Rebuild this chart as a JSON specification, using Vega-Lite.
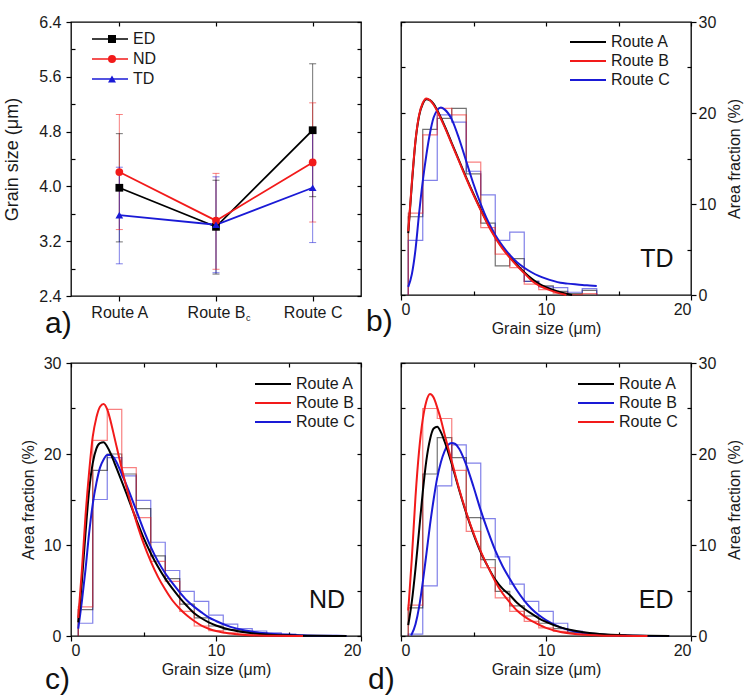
{
"$schema": "https://vega.github.io/schema/vega-lite/v6.json",
"padding": {"left": 3, "top": 13, "right": 0, "bottom": 2},
"background": "white",
"config": {
  "font": "Liberation Sans",
  "view": {"stroke": "#000", "strokeWidth": 1.3},
  "axis": {"grid": false, "domain": false, "labelFontSize": 16, "titleFontSize": 16, "titleFontWeight": "normal", "labelColor": "#1a1a1a", "titleColor": "#1a1a1a", "tickColor": "#000", "tickWidth": 1.2, "labelPadding": 2},
  "legend": {"labelFontSize": 16, "labelColor": "#1a1a1a", "padding": 0, "rowPadding": 3},
  "title": {"fontSize": 30, "fontWeight": "normal", "color": "#111", "font": "Liberation Sans"}
},
"datasets": {
"pa": [
{"dir":"ED","route":"Route A","mean":3.98,"lo":3.19,"hi":4.77},
{"dir":"ED","route":"Route Bc","mean":3.41,"lo":2.72,"hi":4.09},
{"dir":"ED","route":"Route C","mean":4.82,"lo":3.85,"hi":5.79},
{"dir":"ND","route":"Route A","mean":4.21,"lo":3.37,"hi":5.05},
{"dir":"ND","route":"Route Bc","mean":3.50,"lo":2.79,"hi":4.19},
{"dir":"ND","route":"Route C","mean":4.35,"lo":3.48,"hi":5.22},
{"dir":"TD","route":"Route A","mean":3.58,"lo":2.87,"hi":4.28},
{"dir":"TD","route":"Route Bc","mean":3.44,"lo":2.74,"hi":4.14},
{"dir":"TD","route":"Route C","mean":3.98,"lo":3.18,"hi":4.79}
],
"curves": [
{"p":"b","r":"Route A","x":0.5,"y":6.8},{"p":"b","r":"Route A","x":0.75,"y":12.2},{"p":"b","r":"Route A","x":1,"y":16.9},{"p":"b","r":"Route A","x":1.25,"y":19.7},{"p":"b","r":"Route A","x":1.5,"y":21.0},{"p":"b","r":"Route A","x":1.75,"y":21.5},{"p":"b","r":"Route A","x":2,"y":21.4},{"p":"b","r":"Route A","x":2.25,"y":21.0},{"p":"b","r":"Route A","x":2.5,"y":20.3},{"p":"b","r":"Route A","x":3,"y":18.6},{"p":"b","r":"Route A","x":3.5,"y":16.7},{"p":"b","r":"Route A","x":4,"y":14.8},{"p":"b","r":"Route A","x":4.5,"y":12.9},{"p":"b","r":"Route A","x":5,"y":11.1},{"p":"b","r":"Route A","x":5.5,"y":9.4},{"p":"b","r":"Route A","x":6,"y":7.8},{"p":"b","r":"Route A","x":6.5,"y":6.4},{"p":"b","r":"Route A","x":7,"y":5.2},{"p":"b","r":"Route A","x":7.5,"y":4.2},{"p":"b","r":"Route A","x":8,"y":3.3},{"p":"b","r":"Route A","x":8.5,"y":2.5},{"p":"b","r":"Route A","x":9,"y":1.8},{"p":"b","r":"Route A","x":9.5,"y":1.25},{"p":"b","r":"Route A","x":10,"y":0.85},{"p":"b","r":"Route A","x":10.5,"y":0.55},{"p":"b","r":"Route A","x":11,"y":0.3},{"p":"b","r":"Route A","x":11.5,"y":0.1},{"p":"b","r":"Route A","x":11.8,"y":0},
{"p":"b","r":"Route C","x":0.5,"y":0.9},{"p":"b","r":"Route C","x":0.75,"y":2.3},{"p":"b","r":"Route C","x":1,"y":5.0},{"p":"b","r":"Route C","x":1.25,"y":9.0},{"p":"b","r":"Route C","x":1.5,"y":12.5},{"p":"b","r":"Route C","x":1.75,"y":15.4},{"p":"b","r":"Route C","x":2,"y":17.8},{"p":"b","r":"Route C","x":2.25,"y":19.5},{"p":"b","r":"Route C","x":2.5,"y":20.3},{"p":"b","r":"Route C","x":2.75,"y":20.6},{"p":"b","r":"Route C","x":3,"y":20.4},{"p":"b","r":"Route C","x":3.5,"y":19.3},{"p":"b","r":"Route C","x":4,"y":17.2},{"p":"b","r":"Route C","x":4.5,"y":14.7},{"p":"b","r":"Route C","x":5,"y":12.2},{"p":"b","r":"Route C","x":5.5,"y":10.0},{"p":"b","r":"Route C","x":6,"y":8.1},{"p":"b","r":"Route C","x":6.5,"y":6.6},{"p":"b","r":"Route C","x":7,"y":5.4},{"p":"b","r":"Route C","x":7.5,"y":4.4},{"p":"b","r":"Route C","x":8,"y":3.6},{"p":"b","r":"Route C","x":8.5,"y":3.0},{"p":"b","r":"Route C","x":9,"y":2.5},{"p":"b","r":"Route C","x":9.5,"y":2.1},{"p":"b","r":"Route C","x":10,"y":1.8},{"p":"b","r":"Route C","x":10.5,"y":1.55},{"p":"b","r":"Route C","x":11,"y":1.35},{"p":"b","r":"Route C","x":11.5,"y":1.25},{"p":"b","r":"Route C","x":12,"y":1.17},{"p":"b","r":"Route C","x":12.5,"y":1.1},{"p":"b","r":"Route C","x":13,"y":1.05},{"p":"b","r":"Route C","x":13.5,"y":1.0},
{"p":"b","r":"Route B","x":0.5,"y":7.0},{"p":"b","r":"Route B","x":0.75,"y":12.4},{"p":"b","r":"Route B","x":1,"y":17.0},{"p":"b","r":"Route B","x":1.25,"y":19.8},{"p":"b","r":"Route B","x":1.5,"y":21.1},{"p":"b","r":"Route B","x":1.75,"y":21.6},{"p":"b","r":"Route B","x":2,"y":21.4},{"p":"b","r":"Route B","x":2.25,"y":20.9},{"p":"b","r":"Route B","x":2.5,"y":20.2},{"p":"b","r":"Route B","x":3,"y":18.5},{"p":"b","r":"Route B","x":3.5,"y":16.6},{"p":"b","r":"Route B","x":4,"y":14.7},{"p":"b","r":"Route B","x":4.5,"y":12.8},{"p":"b","r":"Route B","x":5,"y":11.0},{"p":"b","r":"Route B","x":5.5,"y":9.3},{"p":"b","r":"Route B","x":6,"y":7.7},{"p":"b","r":"Route B","x":6.5,"y":6.3},{"p":"b","r":"Route B","x":7,"y":5.1},{"p":"b","r":"Route B","x":7.5,"y":4.1},{"p":"b","r":"Route B","x":8,"y":3.2},{"p":"b","r":"Route B","x":8.5,"y":2.4},{"p":"b","r":"Route B","x":9,"y":1.6},{"p":"b","r":"Route B","x":9.5,"y":1.05},{"p":"b","r":"Route B","x":10,"y":0.7},{"p":"b","r":"Route B","x":10.5,"y":0.4},{"p":"b","r":"Route B","x":11,"y":0.15},{"p":"b","r":"Route B","x":11.4,"y":0},
{"p":"c","r":"Route C","x":0.5,"y":0.8},{"p":"c","r":"Route C","x":0.75,"y":3.8},{"p":"c","r":"Route C","x":1,"y":7.3},{"p":"c","r":"Route C","x":1.25,"y":11.3},{"p":"c","r":"Route C","x":1.5,"y":14.5},{"p":"c","r":"Route C","x":1.75,"y":16.8},{"p":"c","r":"Route C","x":2,"y":18.5},{"p":"c","r":"Route C","x":2.25,"y":19.4},{"p":"c","r":"Route C","x":2.5,"y":19.9},{"p":"c","r":"Route C","x":2.75,"y":19.9},{"p":"c","r":"Route C","x":3,"y":19.5},{"p":"c","r":"Route C","x":3.5,"y":17.8},{"p":"c","r":"Route C","x":4,"y":15.9},{"p":"c","r":"Route C","x":4.5,"y":13.8},{"p":"c","r":"Route C","x":5,"y":11.7},{"p":"c","r":"Route C","x":5.5,"y":9.8},{"p":"c","r":"Route C","x":6,"y":8.2},{"p":"c","r":"Route C","x":6.5,"y":6.9},{"p":"c","r":"Route C","x":7,"y":5.8},{"p":"c","r":"Route C","x":7.5,"y":4.8},{"p":"c","r":"Route C","x":8,"y":3.9},{"p":"c","r":"Route C","x":8.5,"y":3.2},{"p":"c","r":"Route C","x":9,"y":2.6},{"p":"c","r":"Route C","x":9.5,"y":2.05},{"p":"c","r":"Route C","x":10,"y":1.65},{"p":"c","r":"Route C","x":11,"y":1.0},{"p":"c","r":"Route C","x":12,"y":0.6},{"p":"c","r":"Route C","x":13,"y":0.36},{"p":"c","r":"Route C","x":14,"y":0.22},{"p":"c","r":"Route C","x":15,"y":0.13},{"p":"c","r":"Route C","x":16,"y":0.08},{"p":"c","r":"Route C","x":17,"y":0.04},{"p":"c","r":"Route C","x":19,"y":0.01},
{"p":"c","r":"Route A","x":0.5,"y":1.5},{"p":"c","r":"Route A","x":0.75,"y":6.0},{"p":"c","r":"Route A","x":1,"y":11.3},{"p":"c","r":"Route A","x":1.25,"y":16.0},{"p":"c","r":"Route A","x":1.5,"y":19.0},{"p":"c","r":"Route A","x":1.75,"y":20.6},{"p":"c","r":"Route A","x":2,"y":21.2},{"p":"c","r":"Route A","x":2.25,"y":21.3},{"p":"c","r":"Route A","x":2.5,"y":20.8},{"p":"c","r":"Route A","x":2.75,"y":20.0},{"p":"c","r":"Route A","x":3,"y":19.0},{"p":"c","r":"Route A","x":3.5,"y":17.0},{"p":"c","r":"Route A","x":4,"y":14.9},{"p":"c","r":"Route A","x":4.5,"y":12.8},{"p":"c","r":"Route A","x":5,"y":10.8},{"p":"c","r":"Route A","x":5.5,"y":9.1},{"p":"c","r":"Route A","x":6,"y":7.6},{"p":"c","r":"Route A","x":6.5,"y":6.3},{"p":"c","r":"Route A","x":7,"y":5.2},{"p":"c","r":"Route A","x":7.5,"y":4.2},{"p":"c","r":"Route A","x":8,"y":3.3},{"p":"c","r":"Route A","x":8.5,"y":2.5},{"p":"c","r":"Route A","x":9,"y":1.95},{"p":"c","r":"Route A","x":9.5,"y":1.5},{"p":"c","r":"Route A","x":10,"y":1.15},{"p":"c","r":"Route A","x":11,"y":0.68},{"p":"c","r":"Route A","x":12,"y":0.4},{"p":"c","r":"Route A","x":13,"y":0.22},{"p":"c","r":"Route A","x":14,"y":0.12},{"p":"c","r":"Route A","x":15,"y":0.07},{"p":"c","r":"Route A","x":16,"y":0.04},{"p":"c","r":"Route A","x":17,"y":0.02},{"p":"c","r":"Route A","x":19,"y":0},
{"p":"c","r":"Route B","x":0.5,"y":2.0},{"p":"c","r":"Route B","x":0.75,"y":7.2},{"p":"c","r":"Route B","x":1,"y":13.2},{"p":"c","r":"Route B","x":1.25,"y":18.0},{"p":"c","r":"Route B","x":1.5,"y":21.9},{"p":"c","r":"Route B","x":1.75,"y":24.0},{"p":"c","r":"Route B","x":2,"y":25.2},{"p":"c","r":"Route B","x":2.25,"y":25.5},{"p":"c","r":"Route B","x":2.5,"y":24.9},{"p":"c","r":"Route B","x":2.75,"y":23.5},{"p":"c","r":"Route B","x":3,"y":21.8},{"p":"c","r":"Route B","x":3.5,"y":18.4},{"p":"c","r":"Route B","x":4,"y":15.3},{"p":"c","r":"Route B","x":4.5,"y":12.6},{"p":"c","r":"Route B","x":5,"y":10.2},{"p":"c","r":"Route B","x":5.5,"y":8.2},{"p":"c","r":"Route B","x":6,"y":6.5},{"p":"c","r":"Route B","x":6.5,"y":5.1},{"p":"c","r":"Route B","x":7,"y":3.9},{"p":"c","r":"Route B","x":7.5,"y":3.0},{"p":"c","r":"Route B","x":8,"y":2.25},{"p":"c","r":"Route B","x":8.5,"y":1.65},{"p":"c","r":"Route B","x":9,"y":1.15},{"p":"c","r":"Route B","x":9.5,"y":0.8},{"p":"c","r":"Route B","x":10,"y":0.55},{"p":"c","r":"Route B","x":11,"y":0.27},{"p":"c","r":"Route B","x":12,"y":0.12},{"p":"c","r":"Route B","x":13,"y":0.05},{"p":"c","r":"Route B","x":14,"y":0.02},{"p":"c","r":"Route B","x":16,"y":0},
{"p":"d","r":"Route B","x":0.7,"y":0.05},{"p":"d","r":"Route B","x":1,"y":1.3},{"p":"d","r":"Route B","x":1.25,"y":3.2},{"p":"d","r":"Route B","x":1.5,"y":5.9},{"p":"d","r":"Route B","x":1.75,"y":9.0},{"p":"d","r":"Route B","x":2,"y":12.2},{"p":"d","r":"Route B","x":2.25,"y":15.0},{"p":"d","r":"Route B","x":2.5,"y":17.4},{"p":"d","r":"Route B","x":2.75,"y":19.1},{"p":"d","r":"Route B","x":3,"y":20.3},{"p":"d","r":"Route B","x":3.25,"y":21.0},{"p":"d","r":"Route B","x":3.5,"y":21.2},{"p":"d","r":"Route B","x":3.75,"y":21.1},{"p":"d","r":"Route B","x":4,"y":20.6},{"p":"d","r":"Route B","x":4.5,"y":18.8},{"p":"d","r":"Route B","x":5,"y":16.4},{"p":"d","r":"Route B","x":5.5,"y":13.8},{"p":"d","r":"Route B","x":6,"y":11.5},{"p":"d","r":"Route B","x":6.5,"y":9.4},{"p":"d","r":"Route B","x":7,"y":7.7},{"p":"d","r":"Route B","x":7.5,"y":6.3},{"p":"d","r":"Route B","x":8,"y":5.0},{"p":"d","r":"Route B","x":8.5,"y":3.9},{"p":"d","r":"Route B","x":9,"y":3.0},{"p":"d","r":"Route B","x":9.5,"y":2.3},{"p":"d","r":"Route B","x":10,"y":1.75},{"p":"d","r":"Route B","x":11,"y":0.95},{"p":"d","r":"Route B","x":12,"y":0.5},{"p":"d","r":"Route B","x":13,"y":0.28},{"p":"d","r":"Route B","x":14,"y":0.15},{"p":"d","r":"Route B","x":15,"y":0.07},{"p":"d","r":"Route B","x":16,"y":0.03},{"p":"d","r":"Route B","x":17,"y":0.01},{"p":"d","r":"Route B","x":18.5,"y":0},
{"p":"d","r":"Route A","x":0.5,"y":1.2},{"p":"d","r":"Route A","x":0.75,"y":3.8},{"p":"d","r":"Route A","x":1,"y":7.4},{"p":"d","r":"Route A","x":1.25,"y":11.6},{"p":"d","r":"Route A","x":1.5,"y":15.8},{"p":"d","r":"Route A","x":1.75,"y":19.3},{"p":"d","r":"Route A","x":2,"y":21.6},{"p":"d","r":"Route A","x":2.25,"y":22.8},{"p":"d","r":"Route A","x":2.5,"y":23.0},{"p":"d","r":"Route A","x":2.75,"y":22.4},{"p":"d","r":"Route A","x":3,"y":21.4},{"p":"d","r":"Route A","x":3.5,"y":18.9},{"p":"d","r":"Route A","x":4,"y":16.1},{"p":"d","r":"Route A","x":4.5,"y":13.5},{"p":"d","r":"Route A","x":5,"y":11.2},{"p":"d","r":"Route A","x":5.5,"y":9.2},{"p":"d","r":"Route A","x":6,"y":7.6},{"p":"d","r":"Route A","x":6.5,"y":6.2},{"p":"d","r":"Route A","x":7,"y":5.2},{"p":"d","r":"Route A","x":7.5,"y":4.5},{"p":"d","r":"Route A","x":8,"y":3.65},{"p":"d","r":"Route A","x":8.5,"y":3.0},{"p":"d","r":"Route A","x":9,"y":2.45},{"p":"d","r":"Route A","x":9.5,"y":1.95},{"p":"d","r":"Route A","x":10,"y":1.55},{"p":"d","r":"Route A","x":11,"y":0.95},{"p":"d","r":"Route A","x":12,"y":0.57},{"p":"d","r":"Route A","x":13,"y":0.33},{"p":"d","r":"Route A","x":14,"y":0.19},{"p":"d","r":"Route A","x":15,"y":0.1},{"p":"d","r":"Route A","x":16,"y":0.05},{"p":"d","r":"Route A","x":17,"y":0.02},{"p":"d","r":"Route A","x":18.5,"y":0},
{"p":"d","r":"Route C","x":0.5,"y":2.8},{"p":"d","r":"Route C","x":0.75,"y":8.6},{"p":"d","r":"Route C","x":1,"y":15.3},{"p":"d","r":"Route C","x":1.25,"y":20.4},{"p":"d","r":"Route C","x":1.5,"y":23.8},{"p":"d","r":"Route C","x":1.75,"y":25.8},{"p":"d","r":"Route C","x":2,"y":26.6},{"p":"d","r":"Route C","x":2.25,"y":26.2},{"p":"d","r":"Route C","x":2.5,"y":25.1},{"p":"d","r":"Route C","x":2.75,"y":23.8},{"p":"d","r":"Route C","x":3,"y":22.2},{"p":"d","r":"Route C","x":3.5,"y":19.2},{"p":"d","r":"Route C","x":4,"y":16.2},{"p":"d","r":"Route C","x":4.5,"y":13.6},{"p":"d","r":"Route C","x":5,"y":11.3},{"p":"d","r":"Route C","x":5.5,"y":9.3},{"p":"d","r":"Route C","x":6,"y":7.6},{"p":"d","r":"Route C","x":6.5,"y":6.0},{"p":"d","r":"Route C","x":7,"y":4.7},{"p":"d","r":"Route C","x":7.5,"y":3.7},{"p":"d","r":"Route C","x":8,"y":2.8},{"p":"d","r":"Route C","x":8.5,"y":2.15},{"p":"d","r":"Route C","x":9,"y":1.65},{"p":"d","r":"Route C","x":9.5,"y":1.25},{"p":"d","r":"Route C","x":10,"y":0.9},{"p":"d","r":"Route C","x":11,"y":0.45},{"p":"d","r":"Route C","x":12,"y":0.22},{"p":"d","r":"Route C","x":13,"y":0.1},{"p":"d","r":"Route C","x":14,"y":0.04},{"p":"d","r":"Route C","x":15,"y":0.02},{"p":"d","r":"Route C","x":17,"y":0}
],
"hist": [
{"p":"b","r":"Route A","i":0,"x":0.5,"y":0},{"p":"b","r":"Route A","i":1,"x":0.5,"y":8.6},{"p":"b","r":"Route A","i":2,"x":1.5,"y":18.2},{"p":"b","r":"Route A","i":3,"x":2.5,"y":19.4},{"p":"b","r":"Route A","i":4,"x":3.5,"y":20.5},{"p":"b","r":"Route A","i":5,"x":4.5,"y":13.3},{"p":"b","r":"Route A","i":6,"x":5.5,"y":7.9},{"p":"b","r":"Route A","i":7,"x":6.5,"y":3.2},{"p":"b","r":"Route A","i":8,"x":7.5,"y":4.0},{"p":"b","r":"Route A","i":9,"x":8.5,"y":1.5},{"p":"b","r":"Route A","i":10,"x":9.5,"y":1.0},{"p":"b","r":"Route A","i":11,"x":10.5,"y":0.4},{"p":"b","r":"Route A","i":12,"x":11.5,"y":0.15},{"p":"b","r":"Route A","i":13,"x":12.5,"y":0.5},{"p":"b","r":"Route A","i":14,"x":13.5,"y":0.5},{"p":"b","r":"Route A","i":15,"x":13.5,"y":0},
{"p":"b","r":"Route C","i":0,"x":0.5,"y":0},{"p":"b","r":"Route C","i":1,"x":0.5,"y":6.0},{"p":"b","r":"Route C","i":2,"x":1.5,"y":12.6},{"p":"b","r":"Route C","i":3,"x":2.5,"y":19.8},{"p":"b","r":"Route C","i":4,"x":3.5,"y":19.0},{"p":"b","r":"Route C","i":5,"x":4.5,"y":13.6},{"p":"b","r":"Route C","i":6,"x":5.5,"y":11.0},{"p":"b","r":"Route C","i":7,"x":6.5,"y":6.0},{"p":"b","r":"Route C","i":8,"x":7.5,"y":6.9},{"p":"b","r":"Route C","i":9,"x":8.5,"y":1.5},{"p":"b","r":"Route C","i":10,"x":9.5,"y":0.9},{"p":"b","r":"Route C","i":11,"x":10.5,"y":0.8},{"p":"b","r":"Route C","i":12,"x":11.5,"y":0.3},{"p":"b","r":"Route C","i":13,"x":12.5,"y":0.7},{"p":"b","r":"Route C","i":14,"x":13.5,"y":0.7},{"p":"b","r":"Route C","i":15,"x":13.5,"y":0},
{"p":"b","r":"Route B","i":0,"x":0.5,"y":0},{"p":"b","r":"Route B","i":1,"x":0.5,"y":9.0},{"p":"b","r":"Route B","i":2,"x":1.5,"y":17.6},{"p":"b","r":"Route B","i":3,"x":2.5,"y":20.5},{"p":"b","r":"Route B","i":4,"x":3.5,"y":19.8},{"p":"b","r":"Route B","i":5,"x":4.5,"y":14.6},{"p":"b","r":"Route B","i":6,"x":5.5,"y":7.4},{"p":"b","r":"Route B","i":7,"x":6.5,"y":4.5},{"p":"b","r":"Route B","i":8,"x":7.5,"y":3.0},{"p":"b","r":"Route B","i":9,"x":8.5,"y":1.2},{"p":"b","r":"Route B","i":10,"x":9.5,"y":0.6},{"p":"b","r":"Route B","i":11,"x":10.5,"y":0.2},{"p":"b","r":"Route B","i":12,"x":11.5,"y":0.05},{"p":"b","r":"Route B","i":13,"x":12.5,"y":0.15},{"p":"b","r":"Route B","i":14,"x":13.5,"y":0.15},{"p":"b","r":"Route B","i":15,"x":13.5,"y":0},
{"p":"c","r":"Route C","i":0,"x":0.5,"y":0},{"p":"c","r":"Route C","i":1,"x":0.5,"y":1.4},{"p":"c","r":"Route C","i":2,"x":1.5,"y":15.0},{"p":"c","r":"Route C","i":3,"x":2.5,"y":19.6},{"p":"c","r":"Route C","i":4,"x":3.5,"y":17.6},{"p":"c","r":"Route C","i":5,"x":4.5,"y":14.9},{"p":"c","r":"Route C","i":6,"x":5.5,"y":10.3},{"p":"c","r":"Route C","i":7,"x":6.5,"y":7.2},{"p":"c","r":"Route C","i":8,"x":7.5,"y":4.9},{"p":"c","r":"Route C","i":9,"x":8.5,"y":3.8},{"p":"c","r":"Route C","i":10,"x":9.5,"y":2.3},{"p":"c","r":"Route C","i":11,"x":10.5,"y":1.3},{"p":"c","r":"Route C","i":12,"x":11.5,"y":0.8},{"p":"c","r":"Route C","i":13,"x":12.5,"y":0.55},{"p":"c","r":"Route C","i":14,"x":13.5,"y":0.35},{"p":"c","r":"Route C","i":15,"x":14.5,"y":0.2},{"p":"c","r":"Route C","i":16,"x":15.5,"y":0.2},{"p":"c","r":"Route C","i":17,"x":15.5,"y":0},
{"p":"c","r":"Route A","i":0,"x":0.5,"y":0},{"p":"c","r":"Route A","i":1,"x":0.5,"y":2.9},{"p":"c","r":"Route A","i":2,"x":1.5,"y":18.2},{"p":"c","r":"Route A","i":3,"x":2.5,"y":20.0},{"p":"c","r":"Route A","i":4,"x":3.5,"y":17.8},{"p":"c","r":"Route A","i":5,"x":4.5,"y":14.0},{"p":"c","r":"Route A","i":6,"x":5.5,"y":8.8},{"p":"c","r":"Route A","i":7,"x":6.5,"y":6.3},{"p":"c","r":"Route A","i":8,"x":7.5,"y":3.5},{"p":"c","r":"Route A","i":9,"x":8.5,"y":2.0},{"p":"c","r":"Route A","i":10,"x":9.5,"y":1.1},{"p":"c","r":"Route A","i":11,"x":10.5,"y":0.7},{"p":"c","r":"Route A","i":12,"x":11.5,"y":0.5},{"p":"c","r":"Route A","i":13,"x":12.5,"y":0.35},{"p":"c","r":"Route A","i":14,"x":13.5,"y":0.2},{"p":"c","r":"Route A","i":15,"x":14.5,"y":0.1},{"p":"c","r":"Route A","i":16,"x":15.5,"y":0.1},{"p":"c","r":"Route A","i":17,"x":15.5,"y":0},
{"p":"c","r":"Route B","i":0,"x":0.5,"y":0},{"p":"c","r":"Route B","i":1,"x":0.5,"y":3.2},{"p":"c","r":"Route B","i":2,"x":1.5,"y":21.5},{"p":"c","r":"Route B","i":3,"x":2.5,"y":24.9},{"p":"c","r":"Route B","i":4,"x":3.5,"y":18.5},{"p":"c","r":"Route B","i":5,"x":4.5,"y":13.0},{"p":"c","r":"Route B","i":6,"x":5.5,"y":8.2},{"p":"c","r":"Route B","i":7,"x":6.5,"y":6.0},{"p":"c","r":"Route B","i":8,"x":7.5,"y":2.7},{"p":"c","r":"Route B","i":9,"x":8.5,"y":1.1},{"p":"c","r":"Route B","i":10,"x":9.5,"y":0.6},{"p":"c","r":"Route B","i":11,"x":10.5,"y":0.35},{"p":"c","r":"Route B","i":12,"x":11.5,"y":0.2},{"p":"c","r":"Route B","i":13,"x":12.5,"y":0.1},{"p":"c","r":"Route B","i":14,"x":13.5,"y":0.05},{"p":"c","r":"Route B","i":15,"x":14.5,"y":0.05},{"p":"c","r":"Route B","i":16,"x":15.5,"y":0.05},{"p":"c","r":"Route B","i":17,"x":15.5,"y":0},
{"p":"d","r":"Route B","i":0,"x":0.5,"y":0},{"p":"d","r":"Route B","i":1,"x":0.5,"y":0.2},{"p":"d","r":"Route B","i":2,"x":1.5,"y":5.5},{"p":"d","r":"Route B","i":3,"x":2.5,"y":16.5},{"p":"d","r":"Route B","i":4,"x":3.5,"y":21.0},{"p":"d","r":"Route B","i":5,"x":4.5,"y":19.0},{"p":"d","r":"Route B","i":6,"x":5.5,"y":12.9},{"p":"d","r":"Route B","i":7,"x":6.5,"y":8.7},{"p":"d","r":"Route B","i":8,"x":7.5,"y":5.7},{"p":"d","r":"Route B","i":9,"x":8.5,"y":3.8},{"p":"d","r":"Route B","i":10,"x":9.5,"y":2.7},{"p":"d","r":"Route B","i":11,"x":10.5,"y":1.4},{"p":"d","r":"Route B","i":12,"x":11.5,"y":0.55},{"p":"d","r":"Route B","i":13,"x":12.5,"y":0.25},{"p":"d","r":"Route B","i":14,"x":13.5,"y":0.15},{"p":"d","r":"Route B","i":15,"x":14.5,"y":0.1},{"p":"d","r":"Route B","i":16,"x":15.5,"y":0.1},{"p":"d","r":"Route B","i":17,"x":15.5,"y":0},
{"p":"d","r":"Route A","i":0,"x":0.5,"y":0},{"p":"d","r":"Route A","i":1,"x":0.5,"y":3.1},{"p":"d","r":"Route A","i":2,"x":1.5,"y":17.8},{"p":"d","r":"Route A","i":3,"x":2.5,"y":21.8},{"p":"d","r":"Route A","i":4,"x":3.5,"y":19.6},{"p":"d","r":"Route A","i":5,"x":4.5,"y":13.0},{"p":"d","r":"Route A","i":6,"x":5.5,"y":8.4},{"p":"d","r":"Route A","i":7,"x":6.5,"y":4.9},{"p":"d","r":"Route A","i":8,"x":7.5,"y":3.3},{"p":"d","r":"Route A","i":9,"x":8.5,"y":2.2},{"p":"d","r":"Route A","i":10,"x":9.5,"y":1.4},{"p":"d","r":"Route A","i":11,"x":10.5,"y":0.8},{"p":"d","r":"Route A","i":12,"x":11.5,"y":0.4},{"p":"d","r":"Route A","i":13,"x":12.5,"y":0.25},{"p":"d","r":"Route A","i":14,"x":13.5,"y":0.15},{"p":"d","r":"Route A","i":15,"x":14.5,"y":0.1},{"p":"d","r":"Route A","i":16,"x":15.5,"y":0.1},{"p":"d","r":"Route A","i":17,"x":15.5,"y":0},
{"p":"d","r":"Route C","i":0,"x":0.5,"y":0},{"p":"d","r":"Route C","i":1,"x":0.5,"y":3.4},{"p":"d","r":"Route C","i":2,"x":1.5,"y":25.0},{"p":"d","r":"Route C","i":3,"x":2.5,"y":23.9},{"p":"d","r":"Route C","i":4,"x":3.5,"y":18.2},{"p":"d","r":"Route C","i":5,"x":4.5,"y":11.5},{"p":"d","r":"Route C","i":6,"x":5.5,"y":7.5},{"p":"d","r":"Route C","i":7,"x":6.5,"y":4.2},{"p":"d","r":"Route C","i":8,"x":7.5,"y":2.7},{"p":"d","r":"Route C","i":9,"x":8.5,"y":1.6},{"p":"d","r":"Route C","i":10,"x":9.5,"y":0.9},{"p":"d","r":"Route C","i":11,"x":10.5,"y":0.5},{"p":"d","r":"Route C","i":12,"x":11.5,"y":0.3},{"p":"d","r":"Route C","i":13,"x":12.5,"y":0.15},{"p":"d","r":"Route C","i":14,"x":13.5,"y":0.1},{"p":"d","r":"Route C","i":15,"x":14.5,"y":0.05},{"p":"d","r":"Route C","i":16,"x":15.5,"y":0.05},{"p":"d","r":"Route C","i":17,"x":15.5,"y":0}
]
},
"columns": 2,
"spacing": {"row": 67, "column": 40},
"bounds": "flush",
"resolve": {"scale": {"color": "independent", "shape": "independent", "fill": "independent"}, "legend": {"color": "independent", "shape": "independent", "fill": "independent"}},
"concat": [
{
 "width": 290, "height": 274,
 "title": {"text": "a)", "orient": "bottom", "anchor": "start", "frame": "group", "dx": -26, "offset": 10, "baseline": "alphabetic"},
 "data": {"name": "pa"},
 "resolve": {"axis": {"x": "independent", "y": "independent"}},
 "layer": [
  {"mark": {"type": "rule", "strokeWidth": 1, "opacity": 0.55},
   "encoding": {
    "x": {"field": "route", "type": "nominal", "scale": {"type": "point", "domain": ["Route A", "Route Bc", "Route C"], "padding": 0.5}, "axis": null},
    "y": {"field": "lo", "type": "quantitative", "scale": {"domain": [2.4, 6.4], "nice": false, "zero": false}, "axis": {"orient": "right", "values": [2.4, 2.8, 3.2, 3.6, 4.0, 4.4, 4.8, 5.2, 5.6, 6.0, 6.4], "tickSize": -4, "labels": false, "title": null}},
    "y2": {"field": "hi"},
    "color": {"field": "dir", "type": "nominal", "scale": {"domain": ["ED", "ND", "TD"], "range": ["#000000", "#f21a1a", "#1a1ad6"]}, "legend": {"orient": "none", "legendX": 31, "legendY": 9, "title": null, "symbolType": "M-3,0H3", "symbolSize": 144, "labelOffset": 15, "rowPadding": 4, "symbolStrokeWidth": 1.6, "symbolOpacity": 1}}
   }},
  {"transform": [{"fold": ["lo", "hi"], "as": ["k", "v"]}],
   "mark": {"type": "tick", "thickness": 1, "size": 7, "opacity": 0.55},
   "encoding": {
    "x": {"field": "route", "type": "nominal", "axis": null},
    "y": {"field": "v", "type": "quantitative", "axis": null},
    "color": {"field": "dir", "type": "nominal", "legend": {"orient": "none", "legendX": 31, "legendY": 9, "title": null, "symbolType": "M-3,0H3", "symbolSize": 144, "labelOffset": 15, "rowPadding": 4, "symbolStrokeWidth": 1.6, "symbolOpacity": 1}}
   }},
  {"mark": {"type": "line", "strokeWidth": 1.8},
   "encoding": {
    "x": {"field": "route", "type": "nominal", "axis": {"orient": "bottom", "tickSize": 5, "labelAngle": 0, "labelPadding": 3, "title": null, "labelExpr": "datum.value == 'Route Bc' ? 'Route B' : datum.value"}},
    "y": {"field": "mean", "type": "quantitative", "axis": {"orient": "left", "values": [2.4, 3.2, 4.0, 4.8, 5.6, 6.4], "format": ".1f", "tickSize": 5, "labelPadding": 5, "title": "Grain size (μm)", "titleFontSize": 18, "titlePadding": 17}},
    "color": {"field": "dir", "type": "nominal", "legend": {"orient": "none", "legendX": 31, "legendY": 9, "title": null, "symbolType": "M-3,0H3", "symbolSize": 144, "labelOffset": 15, "rowPadding": 4, "symbolStrokeWidth": 1.6, "symbolOpacity": 1}}
   }},
  {"mark": {"type": "point", "filled": true, "opacity": 1, "size": 60},
   "encoding": {
    "x": {"field": "route", "type": "nominal", "axis": {"orient": "top", "tickSize": -4, "labels": false, "title": null}},
    "y": {"field": "mean", "type": "quantitative", "axis": {"orient": "left", "values": [2.8, 3.6, 4.4, 5.2, 6.0], "tickSize": -4, "labels": false, "title": null}},
    "fill": {"field": "dir", "type": "nominal", "scale": {"range": ["#000000", "#f21a1a", "#1a1ad6"]}, "legend": {"orient": "none", "legendX": 33, "legendY": 9, "title": null, "symbolSize": 64, "labelOffset": 25, "rowPadding": 4, "labelExpr": "''", "labelOpacity": 0, "symbolOpacity": 1, "symbolStrokeWidth": 0}},
    "shape": {"field": "dir", "type": "nominal", "scale": {"range": ["square", "circle", "triangle-up"]}, "legend": {"orient": "none", "legendX": 33, "legendY": 9, "title": null, "symbolSize": 64, "labelOffset": 25, "rowPadding": 4, "labelExpr": "''", "labelOpacity": 0, "symbolOpacity": 1, "symbolStrokeWidth": 0}}
   }},
  {"data": {"values": [{"route": "Route Bc", "s": "c"}]},
   "mark": {"type": "text", "fontSize": 9, "dx": 30, "dy": 25, "align": "left", "baseline": "alphabetic", "color": "#1a1a1a"},
   "encoding": {
    "x": {"field": "route", "type": "nominal", "axis": null},
    "y": {"datum": 2.4, "type": "quantitative", "axis": null},
    "text": {"field": "s"}
   }}
 ]
},
{
 "width": 290, "height": 273,
 "title": {"text": "b)", "orient": "bottom", "anchor": "start", "frame": "group", "dx": -35, "offset": -5, "baseline": "alphabetic"},
 "resolve": {"axis": {"x": "independent", "y": "independent"}},
 "layer": [
  {"data": {"name": "hist"}, "transform": [{"filter": "datum.p == 'b'"}],
   "mark": {"type": "line", "interpolate": "step-after", "strokeWidth": 1.2, "opacity": 0.55},
   "encoding": {
    "x": {"field": "x", "type": "quantitative", "scale": {"domain": [0, 20], "nice": false}, "axis": {"orient": "bottom", "values": [5, 15], "tickSize": -4, "labels": false, "title": null}},
    "y": {"field": "y", "type": "quantitative", "scale": {"domain": [0, 30], "nice": false}, "axis": {"orient": "right", "values": [5, 15, 25], "tickSize": -4, "labels": false, "title": null}},
    "color": {"field": "r", "type": "nominal", "scale": {"domain": ["Route A", "Route B", "Route C"], "range": ["#000000", "#f21a1a", "#1a1ad6"]}, "legend": {"orient": "none", "legendX": 179, "legendY": 12, "title": null, "symbolType": "M-3,0H3", "symbolSize": 144, "labelOffset": 15, "symbolStrokeWidth": 1.8, "symbolOpacity": 1}},
    "order": {"field": "i", "type": "quantitative"}
   }},
  {"data": {"name": "curves"}, "transform": [{"filter": "datum.p == 'b'"}],
   "mark": {"type": "line", "interpolate": "monotone", "strokeWidth": 2},
   "encoding": {
    "x": {"field": "x", "type": "quantitative", "axis": {"orient": "bottom", "values": [0, 10, 20], "tickSize": 5, "labelPadding": 1, "title": "Grain size (μm)", "titlePadding": 3}},
    "y": {"field": "y", "type": "quantitative", "axis": {"orient": "right", "values": [0, 10, 20, 30], "tickSize": 5, "labelPadding": 2, "title": "Area fraction (%)", "titleAngle": 270, "titleBaseline": "top", "titlePadding": 11}},
    "color": {"field": "r", "type": "nominal", "legend": {"orient": "none", "legendX": 179, "legendY": 12, "title": null, "symbolType": "M-3,0H3", "symbolSize": 144, "labelOffset": 15, "symbolStrokeWidth": 1.8, "symbolOpacity": 1}}
   }},
  {"data": {"values": [{"t": "TD"}]},
   "mark": {"type": "text", "fontSize": 25, "align": "right", "baseline": "alphabetic", "color": "#111"},
   "encoding": {
    "x": {"datum": 18.8, "type": "quantitative", "axis": {"orient": "top", "values": [0, 5, 10, 15, 20], "tickSize": -4, "labels": false, "title": null}},
    "y": {"datum": 3.1, "type": "quantitative", "axis": {"orient": "left", "values": [0, 5, 10, 15, 20, 25, 30], "tickSize": -4, "labels": false, "title": null}},
    "text": {"field": "t"}
   }}
 ]
},
{
 "width": 290, "height": 273,
 "title": {"text": "c)", "orient": "bottom", "anchor": "start", "frame": "group", "dx": -26, "offset": 12, "baseline": "alphabetic"},
 "resolve": {"axis": {"x": "independent", "y": "independent"}},
 "layer": [
  {"data": {"name": "hist"}, "transform": [{"filter": "datum.p == 'c'"}],
   "mark": {"type": "line", "interpolate": "step-after", "strokeWidth": 1.2, "opacity": 0.55},
   "encoding": {
    "x": {"field": "x", "type": "quantitative", "scale": {"domain": [0, 20], "nice": false}, "axis": {"orient": "bottom", "values": [5, 15], "tickSize": -4, "labels": false, "title": null}},
    "y": {"field": "y", "type": "quantitative", "scale": {"domain": [0, 30], "nice": false}, "axis": {"orient": "left", "values": [5, 15, 25], "tickSize": -4, "labels": false, "title": null}},
    "color": {"field": "r", "type": "nominal", "scale": {"domain": ["Route A", "Route B", "Route C"], "range": ["#000000", "#f21a1a", "#1a1ad6"]}, "legend": {"orient": "none", "legendX": 194, "legendY": 13, "title": null, "symbolType": "M-3,0H3", "symbolSize": 144, "labelOffset": 15, "symbolStrokeWidth": 1.8, "symbolOpacity": 1}},
    "order": {"field": "i", "type": "quantitative"}
   }},
  {"data": {"name": "curves"}, "transform": [{"filter": "datum.p == 'c'"}],
   "mark": {"type": "line", "interpolate": "monotone", "strokeWidth": 2},
   "encoding": {
    "x": {"field": "x", "type": "quantitative", "axis": {"orient": "bottom", "values": [0, 10, 20], "tickSize": 5, "labelPadding": 1, "title": "Grain size (μm)", "titlePadding": 3}},
    "y": {"field": "y", "type": "quantitative", "axis": {"orient": "left", "values": [0, 10, 20, 30], "tickSize": 5, "labelPadding": 5, "title": "Area fraction (%)", "titlePadding": 7}},
    "color": {"field": "r", "type": "nominal", "legend": {"orient": "none", "legendX": 194, "legendY": 13, "title": null, "symbolType": "M-3,0H3", "symbolSize": 144, "labelOffset": 15, "symbolStrokeWidth": 1.8, "symbolOpacity": 1}}
   }},
  {"data": {"values": [{"t": "ND"}]},
   "mark": {"type": "text", "fontSize": 25, "align": "right", "baseline": "alphabetic", "color": "#111"},
   "encoding": {
    "x": {"datum": 18.9, "type": "quantitative", "axis": {"orient": "top", "values": [0, 5, 10, 15, 20], "tickSize": -4, "labels": false, "title": null}},
    "y": {"datum": 3.1, "type": "quantitative", "axis": {"orient": "right", "values": [0, 5, 10, 15, 20, 25, 30], "tickSize": -4, "labels": false, "title": null}},
    "text": {"field": "t"}
   }}
 ]
},
{
 "width": 290, "height": 273,
 "title": {"text": "d)", "orient": "bottom", "anchor": "start", "frame": "group", "dx": -33, "offset": 12, "baseline": "alphabetic"},
 "resolve": {"axis": {"x": "independent", "y": "independent"}},
 "layer": [
  {"data": {"name": "hist"}, "transform": [{"filter": "datum.p == 'd'"}],
   "mark": {"type": "line", "interpolate": "step-after", "strokeWidth": 1.2, "opacity": 0.55},
   "encoding": {
    "x": {"field": "x", "type": "quantitative", "scale": {"domain": [0, 20], "nice": false}, "axis": {"orient": "bottom", "values": [5, 15], "tickSize": -4, "labels": false, "title": null}},
    "y": {"field": "y", "type": "quantitative", "scale": {"domain": [0, 30], "nice": false}, "axis": {"orient": "right", "values": [5, 15, 25], "tickSize": -4, "labels": false, "title": null}},
    "color": {"field": "r", "type": "nominal", "scale": {"domain": ["Route A", "Route B", "Route C"], "range": ["#000000", "#1a1ad6", "#f21a1a"]}, "legend": {"orient": "none", "legendX": 187, "legendY": 13, "title": null, "symbolType": "M-3,0H3", "symbolSize": 144, "labelOffset": 15, "symbolStrokeWidth": 1.8, "symbolOpacity": 1}},
    "order": {"field": "i", "type": "quantitative"}
   }},
  {"data": {"name": "curves"}, "transform": [{"filter": "datum.p == 'd'"}],
   "mark": {"type": "line", "interpolate": "monotone", "strokeWidth": 2},
   "encoding": {
    "x": {"field": "x", "type": "quantitative", "axis": {"orient": "bottom", "values": [0, 10, 20], "tickSize": 5, "labelPadding": 1, "title": "Grain size (μm)", "titlePadding": 3}},
    "y": {"field": "y", "type": "quantitative", "axis": {"orient": "right", "values": [0, 10, 20, 30], "tickSize": 5, "labelPadding": 2, "title": "Area fraction (%)", "titleAngle": 270, "titleBaseline": "top", "titlePadding": 11}},
    "color": {"field": "r", "type": "nominal", "legend": {"orient": "none", "legendX": 187, "legendY": 13, "title": null, "symbolType": "M-3,0H3", "symbolSize": 144, "labelOffset": 15, "symbolStrokeWidth": 1.8, "symbolOpacity": 1}}
   }},
  {"data": {"values": [{"t": "ED"}]},
   "mark": {"type": "text", "fontSize": 25, "align": "right", "baseline": "alphabetic", "color": "#111"},
   "encoding": {
    "x": {"datum": 18.8, "type": "quantitative", "axis": {"orient": "top", "values": [0, 5, 10, 15, 20], "tickSize": -4, "labels": false, "title": null}},
    "y": {"datum": 3.1, "type": "quantitative", "axis": {"orient": "left", "values": [0, 5, 10, 15, 20, 25, 30], "tickSize": -4, "labels": false, "title": null}},
    "text": {"field": "t"}
   }}
 ]
}
]
}
